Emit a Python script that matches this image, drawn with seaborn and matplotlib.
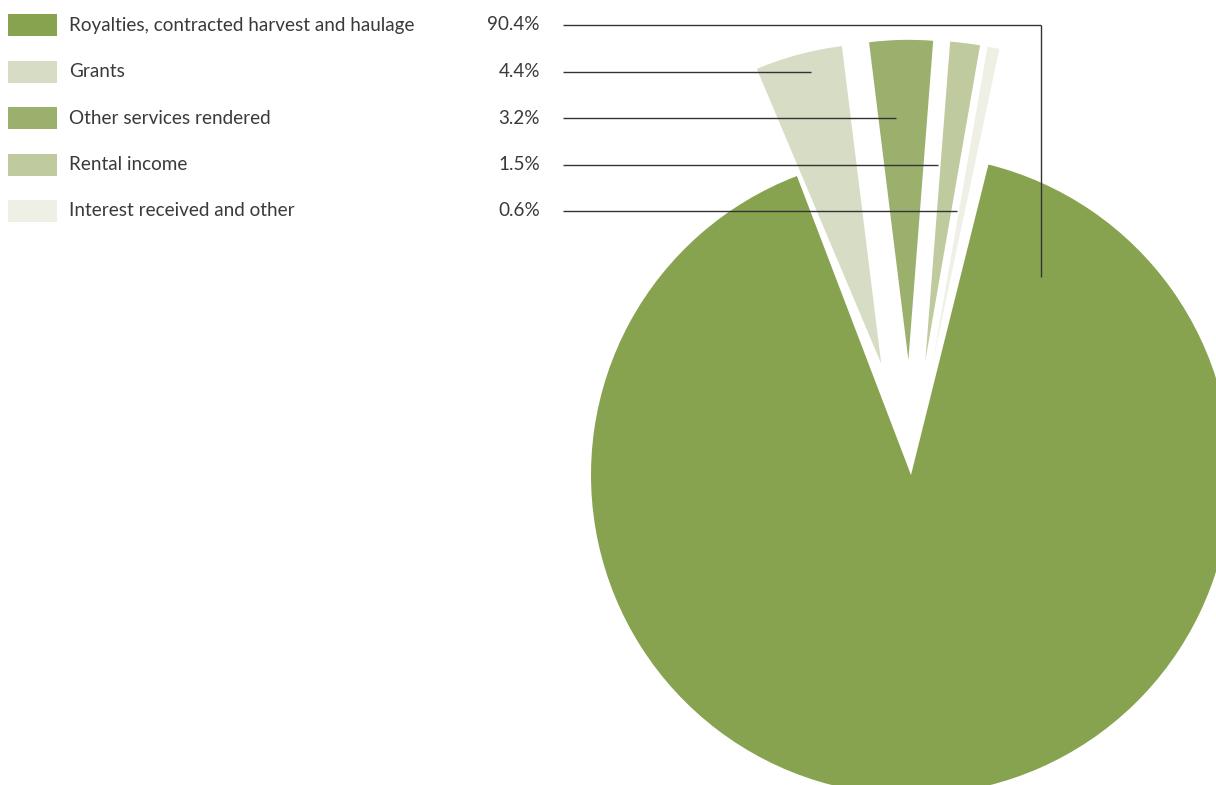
import matplotlib
matplotlib.use("Agg")
import matplotlib.pyplot as plt
import seaborn as sns

categories = ["Royalties, contracted harvest and haulage", "Grants",
              "Other services rendered", "Rental income", "Interest received and other"]
values = [90.4, 4.4, 3.2, 1.5, 0.6]
pct_labels = ["90.4%", "4.4%", "3.2%", "1.5%", "0.6%"]

palette = ["#88A350", "#D7DDC4", "#9CB06E", "#BFCB9E", "#EEF0E5"]

sns.set_theme(style="white")
plt.rcParams["font.family"] = ["Lato", "DejaVu Sans"]

W, H = 1216, 785
fig = plt.figure(figsize=(W / 100, H / 100), dpi=100)
ax = fig.add_axes([0, 0, 1, 1])

cx, cy, R = 911, H - 475, 320
# main slice (kept in place)
ax.pie(values, colors=[palette[0]] + ["none"] * (len(values) - 1),
       startangle=76, counterclock=False, center=(cx, cy), radius=R,
       wedgeprops=dict(linewidth=0))
# small slices, pulled out of the pie
explode = [0] + [0.36 * R] * (len(values) - 1)
ax.pie(values, colors=["none"] + palette[1:], startangle=78, counterclock=False,
       center=(cx, cy), radius=R, explode=explode,
       wedgeprops=dict(linewidth=0))
ax.set_xlim(0, W)
ax.set_ylim(0, H)
ax.set_aspect("auto")
ax.axis("off")

text_color = "#3a3a3a"
row_y = [25, 71.5, 118, 164.5, 211]
leader_end = [(1041, 277), (811, None), (896, None), (938, None), (957, None)]
for i, (cat, lab) in enumerate(zip(categories, pct_labels)):
    y = H - row_y[i]
    ax.add_patch(plt.Rectangle((8, y - 11), 49, 22, color=palette[i], lw=0, zorder=3))
    ax.text(69, y, cat, ha="left", va="center", fontsize=13.6, fontweight="normal",
            color=text_color)
    ax.text(540, y, lab, ha="right", va="center", fontsize=13.6, fontweight="normal",
            color=text_color)
    xe, ye = leader_end[i]
    ax.plot([563, xe], [y, y], color="#333333", lw=1, zorder=5, solid_capstyle="butt")
    if ye is not None:
        ax.plot([xe, xe], [y, H - ye], color="#333333", lw=1, zorder=5, solid_capstyle="butt")

fig.savefig("out.png", dpi=100)
